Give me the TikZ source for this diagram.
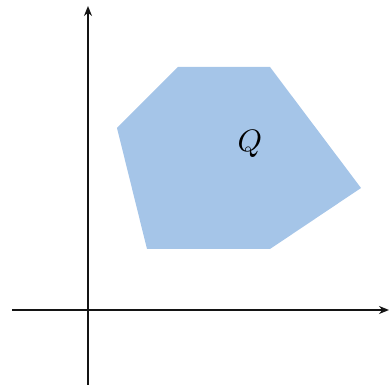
\documentclass[tikz,border=0pt]{standalone}
\usetikzlibrary{arrows.meta}
\definecolor{qblue}{RGB}{165,197,232}
\definecolor{axisc}{RGB}{20,20,20}
\begin{document}
\begin{tikzpicture}[x=1pt,y=-1pt,
  axis/.style={draw=axisc,line width=2.2pt,-{Stealth[length=10pt,width=8pt]}},
  region/.style={fill=qblue,draw=none}]
\useasboundingbox (0,0) rectangle (389,385);
\coordinate (p1) at (178,67);
\coordinate (p2) at (270,67);
\coordinate (p3) at (361,188);
\coordinate (p4) at (270,249);
\coordinate (p5) at (147,249);
\coordinate (p6) at (117,128);
\fill[region] (p1) -- (p2) -- (p3) -- (p4) -- (p5) -- (p6) -- cycle;
\coordinate (xs) at (12,310);
\coordinate (xe) at (389,310);
\coordinate (ys) at (88,385);
\coordinate (ye) at (88,6);
\draw[axis] (xs) -- (xe);
\draw[axis] (ys) -- (ye);
\node[inner sep=0pt] (Q) at (250,144) {\scalebox{3.1}{$Q$}};
\end{tikzpicture}
\end{document}
